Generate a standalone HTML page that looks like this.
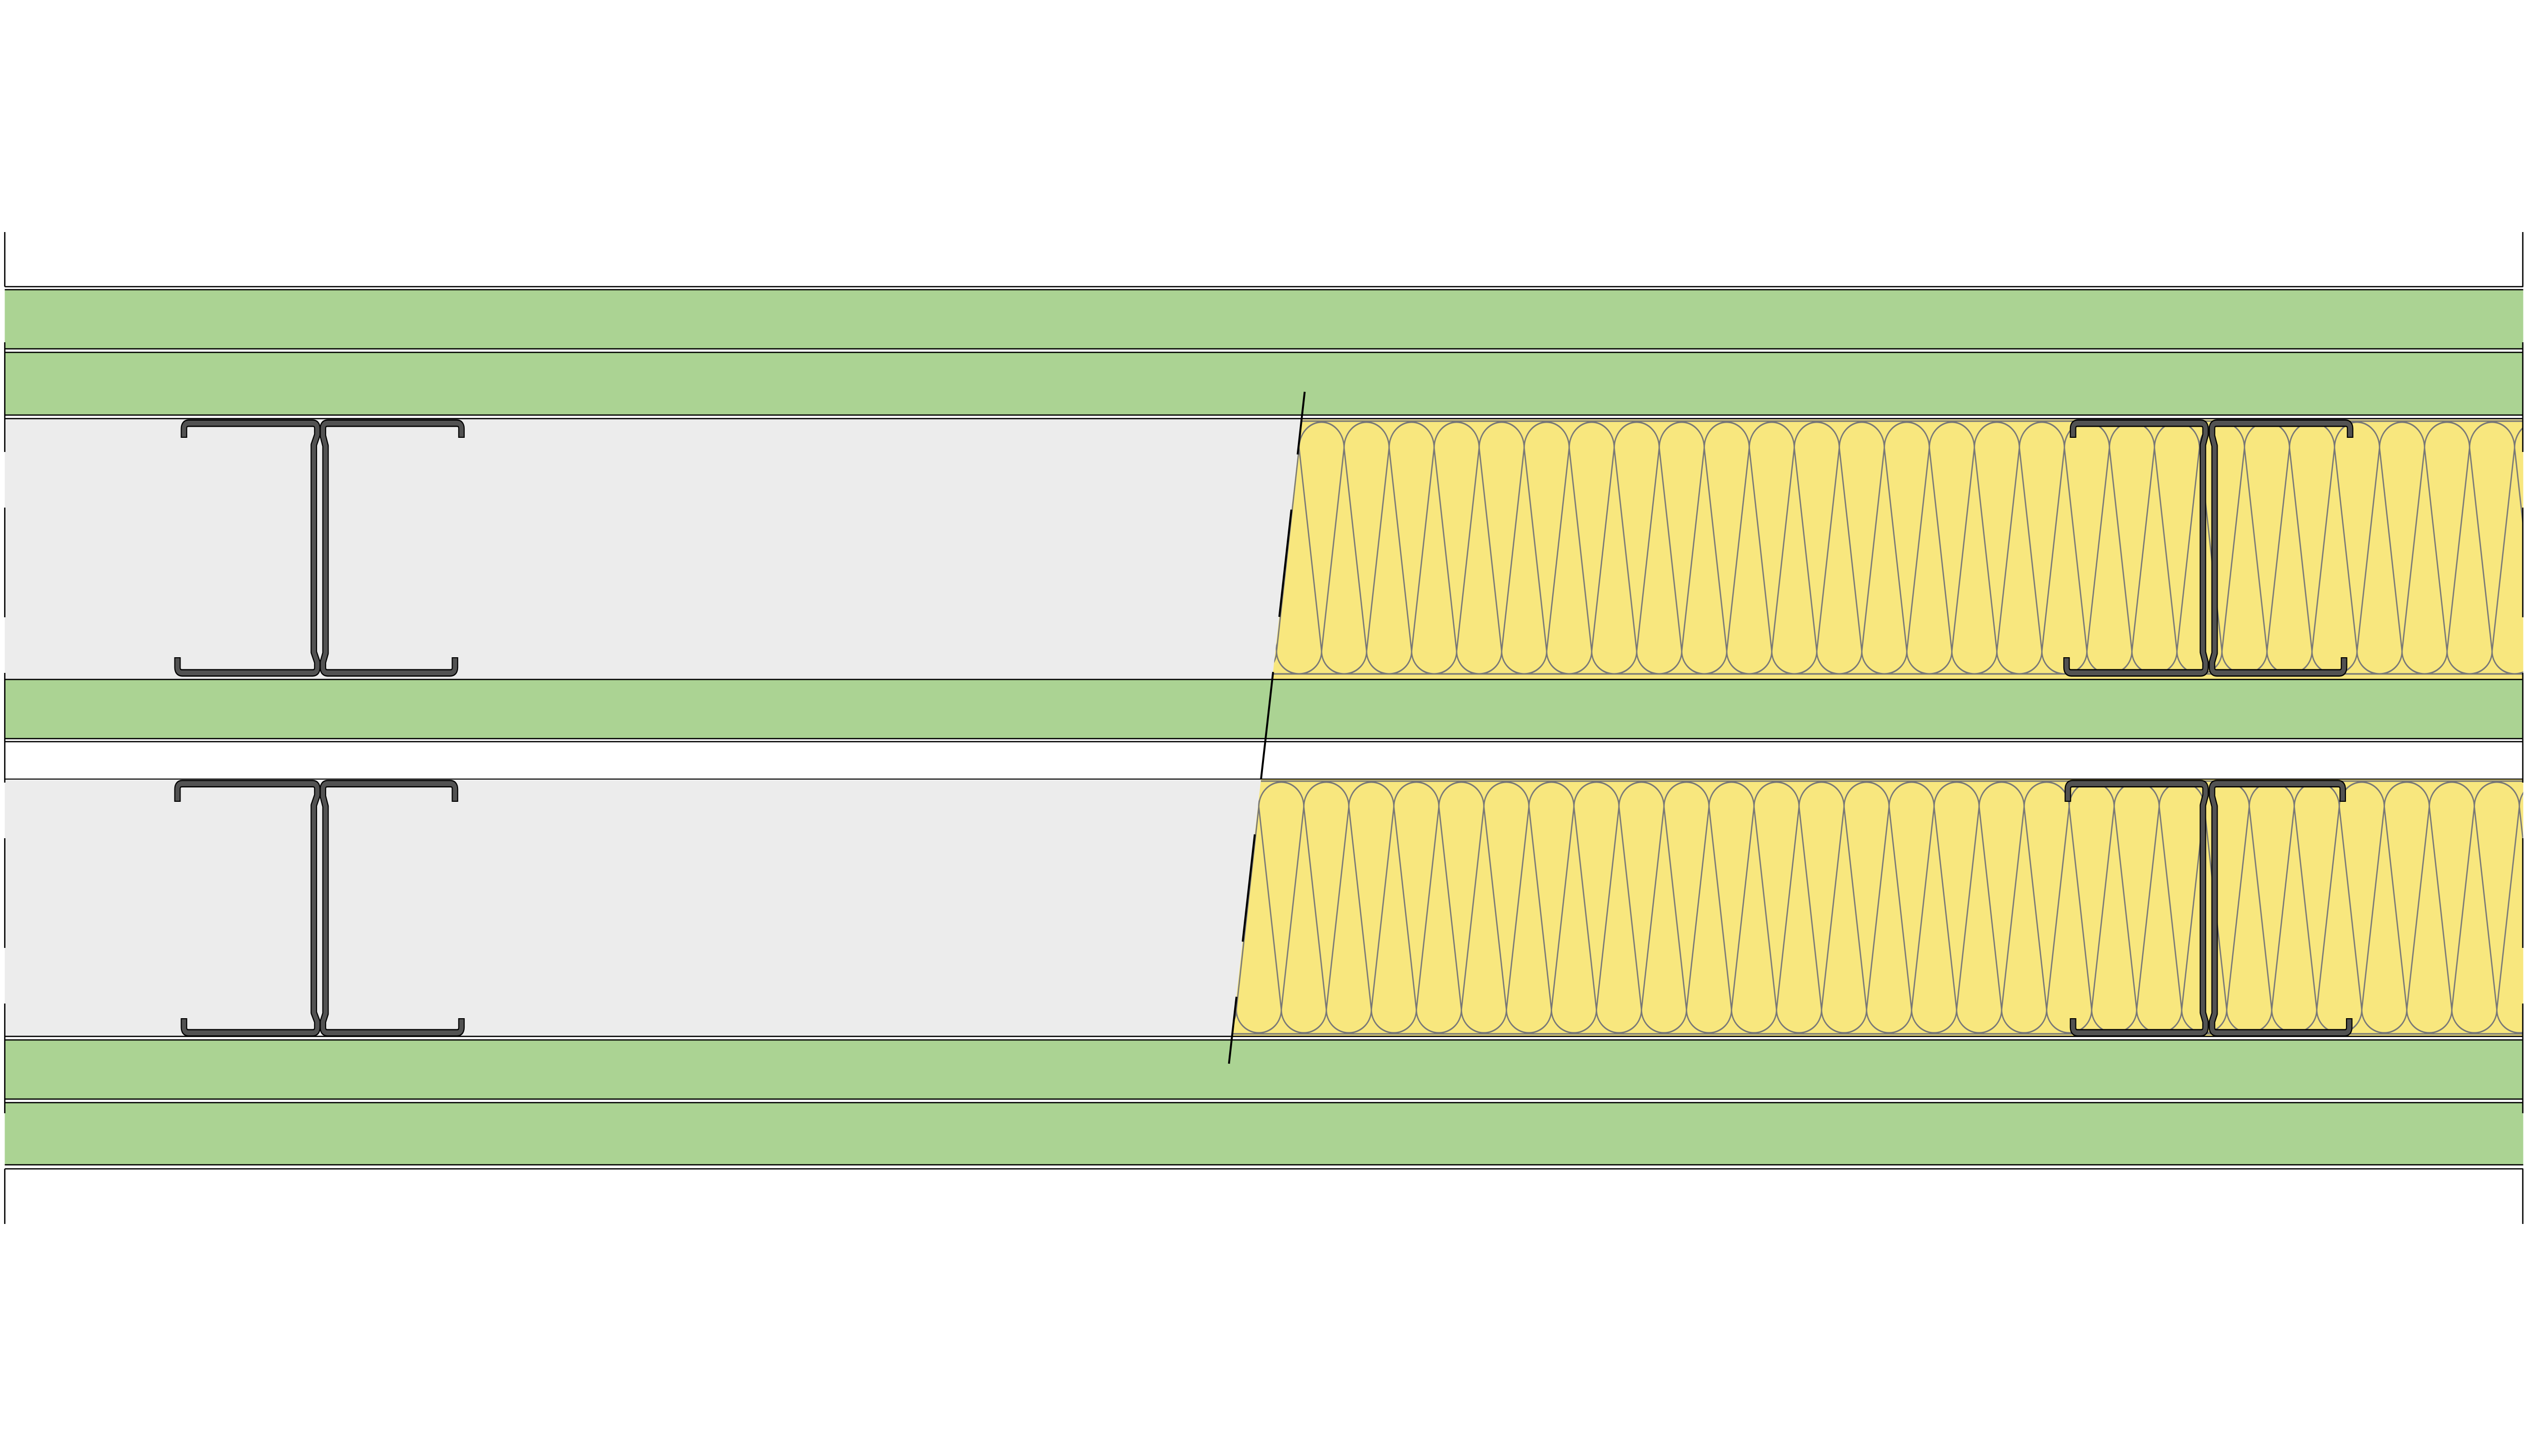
<!DOCTYPE html>
<html><head><meta charset="utf-8"><style>html,body{margin:0;padding:0;background:#fff;width:100%;height:100%;overflow:hidden}svg{display:block;width:100vw;height:100vh}</style></head>
<body>
<svg xmlns="http://www.w3.org/2000/svg" viewBox="0 0 5840 2880" preserveAspectRatio="none">
<defs>
<pattern id="p1" patternUnits="userSpaceOnUse" x="3053" y="0" width="104" height="2880">
<g fill="none" stroke="#777" stroke-width="3">
<path d="M-52,886 A52,51 0 0 1 52,886 A52,51 0 0 1 156,886"/>
<path d="M0,1288 A52,45 0 0 0 104,1288"/>
<path d="M52,886 L0,1288 M52,886 L104,1288"/>
</g></pattern>
<pattern id="p2" patternUnits="userSpaceOnUse" x="2960" y="0" width="104" height="2880">
<g fill="none" stroke="#777" stroke-width="3">
<path d="M-52,1596 A52,49 0 0 1 52,1596 A52,49 0 0 1 156,1596"/>
<path d="M0,1997 A52,46 0 0 0 104,1997"/>
<path d="M52,1596 L0,1997 M52,1596 L104,1997"/>
</g></pattern>
</defs>
<rect width="5840" height="2880" fill="#fff"/>
<rect x="11" y="828" width="5818" height="516" fill="#ececec"/>
<rect x="11" y="1541" width="5818" height="509" fill="#ececec"/>
<polygon points="3007,830 5829,830 5829,1343 2939,1343" fill="#f8e77e"/>
<polygon points="3007,830 5829,830 5829,1343 2939,1343" fill="url(#p1)"/>
<polygon points="2913,1542 5829,1542 5829,2049 2846,2049" fill="#f8e77e"/>
<polygon points="2913,1542 5829,1542 5829,2049 2846,2049" fill="url(#p2)"/>
<g stroke="#777" stroke-width="3">
<line x1="3006" y1="833" x2="5829" y2="833"/><line x1="2941" y1="1333" x2="5829" y2="1333"/>
<line x1="2913" y1="1545" x2="5829" y2="1545"/><line x1="2847" y1="2045" x2="5829" y2="2045"/>
</g>
<g fill="#abd393">
<rect x="11" y="573" width="5818" height="117"/>
<rect x="11" y="697" width="5818" height="124"/>
<rect x="11" y="1344" width="5818" height="117"/>
<rect x="11" y="2057" width="5818" height="117"/>
<rect x="11" y="2181" width="5818" height="123"/>
</g>
<g stroke="#000" stroke-width="2.5">
<line x1="11" y1="567" x2="5829" y2="567"/><line x1="11" y1="573" x2="5829" y2="573"/>
<line x1="11" y1="690" x2="5829" y2="690"/><line x1="11" y1="697" x2="5829" y2="697"/>
<line x1="11" y1="821" x2="5829" y2="821"/><line x1="11" y1="828" x2="5829" y2="828"/>
<line x1="11" y1="1344" x2="5829" y2="1344"/>
<line x1="11" y1="1461" x2="5829" y2="1461"/><line x1="11" y1="1467" x2="5829" y2="1467"/>
<line x1="11" y1="1541" x2="5829" y2="1541" stroke-width="2"/>
<line x1="11" y1="2050" x2="5829" y2="2050"/><line x1="11" y1="2057" x2="5829" y2="2057"/>
<line x1="11" y1="2174" x2="5829" y2="2174"/><line x1="11" y1="2181" x2="5829" y2="2181"/>
<line x1="11" y1="2304" x2="5829" y2="2304"/><line x1="11" y1="2312" x2="5829" y2="2312"/>
</g>
<g stroke="#000" stroke-width="3">
<line x1="11" y1="459" x2="11" y2="567"/><line x1="5828" y1="459" x2="5828" y2="567"/>
<line x1="11" y1="2312" x2="11" y2="2421"/><line x1="5828" y1="2312" x2="5828" y2="2421"/>
<line x1="11" y1="567" x2="11" y2="2312" stroke-dasharray="217 110" stroke-dashoffset="-110"/>
<line x1="5828" y1="567" x2="5828" y2="2312" stroke-dasharray="217 110" stroke-dashoffset="-110"/>
</g>
<line x1="3014" y1="775" x2="2839" y2="2104" stroke="#000" stroke-width="4.5" stroke-dasharray="214 110" stroke-dashoffset="89"/>
<g fill="none" stroke-linejoin="round" stroke="#000" stroke-width="15">
<path d="M425,866 L425,848 Q425,837 436,837 L722,837 Q733,837 733,848 L733,860 L725,880 L725,1290 L733,1310 L733,1320 Q733,1331 722,1331 L421,1331 Q410,1331 410,1320 L410,1300"/>
<path d="M1066,866 L1066,848 Q1066,837 1055,837 L757,837 Q746,837 746,848 L746,862 L752,882 L752,1292 L746,1310 L746,1320 Q746,1331 757,1331 L1040,1331 Q1051,1331 1051,1320 L1051,1300"/>
<path d="M410,1586 L410,1561 Q410,1550 421,1550 L722,1550 Q733,1550 733,1561 L733,1573 L725,1593 L725,2003 L733,2021 L733,2032 Q733,2043 722,2043 L436,2043 Q425,2043 425,2032 L425,2014"/>
<path d="M1051,1586 L1051,1561 Q1051,1550 1040,1550 L757,1550 Q746,1550 746,1561 L746,1575 L752,1595 L752,2005 L746,2021 L746,2032 Q746,2043 757,2043 L1055,2043 Q1066,2043 1066,2032 L1066,2014"/>
<path d="M4789,866 L4789,848 Q4789,837 4800,837 L5084,837 Q5095,837 5095,848 L5095,860 L5089,880 L5089,1290 L5095,1310 L5095,1320 Q5095,1331 5084,1331 L4785,1331 Q4774,1331 4774,1320 L4774,1300"/>
<path d="M5429,866 L5429,848 Q5429,837 5418,837 L5121,837 Q5110,837 5110,848 L5110,862 L5116,882 L5116,1292 L5110,1310 L5110,1320 Q5110,1331 5121,1331 L5404,1331 Q5415,1331 5415,1320 L5415,1300"/>
<path d="M4777,1586 L4777,1561 Q4777,1550 4788,1550 L5084,1550 Q5095,1550 5095,1561 L5095,1573 L5089,1593 L5089,2003 L5095,2021 L5095,2032 Q5095,2043 5084,2043 L4800,2043 Q4789,2043 4789,2032 L4789,2014"/>
<path d="M5412,1586 L5412,1561 Q5412,1550 5401,1550 L5121,1550 Q5110,1550 5110,1561 L5110,1575 L5116,1595 L5116,2005 L5110,2021 L5110,2032 Q5110,2043 5121,2043 L5416,2043 Q5427,2043 5427,2032 L5427,2014"/>
</g>
<g fill="none" stroke-linejoin="round" stroke="#525252" stroke-width="10">
<path d="M425,864 L425,848 Q425,837 436,837 L722,837 Q733,837 733,848 L733,860 L725,880 L725,1290 L733,1310 L733,1320 Q733,1331 722,1331 L421,1331 Q410,1331 410,1320 L410,1302"/>
<path d="M1066,864 L1066,848 Q1066,837 1055,837 L757,837 Q746,837 746,848 L746,862 L752,882 L752,1292 L746,1310 L746,1320 Q746,1331 757,1331 L1040,1331 Q1051,1331 1051,1320 L1051,1302"/>
<path d="M410,1584 L410,1561 Q410,1550 421,1550 L722,1550 Q733,1550 733,1561 L733,1573 L725,1593 L725,2003 L733,2021 L733,2032 Q733,2043 722,2043 L436,2043 Q425,2043 425,2032 L425,2016"/>
<path d="M1051,1584 L1051,1561 Q1051,1550 1040,1550 L757,1550 Q746,1550 746,1561 L746,1575 L752,1595 L752,2005 L746,2021 L746,2032 Q746,2043 757,2043 L1055,2043 Q1066,2043 1066,2032 L1066,2016"/>
<path d="M4789,864 L4789,848 Q4789,837 4800,837 L5084,837 Q5095,837 5095,848 L5095,860 L5089,880 L5089,1290 L5095,1310 L5095,1320 Q5095,1331 5084,1331 L4785,1331 Q4774,1331 4774,1320 L4774,1302"/>
<path d="M5429,864 L5429,848 Q5429,837 5418,837 L5121,837 Q5110,837 5110,848 L5110,862 L5116,882 L5116,1292 L5110,1310 L5110,1320 Q5110,1331 5121,1331 L5404,1331 Q5415,1331 5415,1320 L5415,1302"/>
<path d="M4777,1584 L4777,1561 Q4777,1550 4788,1550 L5084,1550 Q5095,1550 5095,1561 L5095,1573 L5089,1593 L5089,2003 L5095,2021 L5095,2032 Q5095,2043 5084,2043 L4800,2043 Q4789,2043 4789,2032 L4789,2016"/>
<path d="M5412,1584 L5412,1561 Q5412,1550 5401,1550 L5121,1550 Q5110,1550 5110,1561 L5110,1575 L5116,1595 L5116,2005 L5110,2021 L5110,2032 Q5110,2043 5121,2043 L5416,2043 Q5427,2043 5427,2032 L5427,2016"/>
</g>
</svg>
</body></html>
